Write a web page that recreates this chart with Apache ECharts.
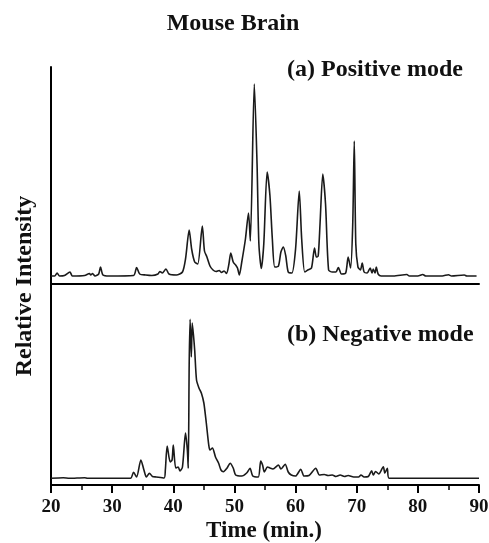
<!DOCTYPE html>
<html>
<head>
<meta charset="utf-8">
<script src="https://cdn.jsdelivr.net/npm/echarts@6/dist/echarts.min.js"></script>
<style>
html,body{margin:0;padding:0;background:#fff;}
#chart{width:489px;height:543px;}
</style>
</head>
<body>
<div id="chart"></div>
<script>
// Positive mode chromatogram (time in min, relative intensity)
var posTime = [20.0,20.6,21.0,21.4,22.2,23.1,23.5,25.5,26.3,26.5,26.8,27.2,27.8,28.1,28.5,29.5,33.5,34.0,34.5,35.5,36.5,37.5,37.8,38.2,38.8,39.3,40.5,41.5,42.0,42.6,43.0,43.5,44.0,44.75,45.1,45.5,46.0,46.5,47.0,47.5,47.9,48.3,48.7,49.1,49.4,49.8,50.2,50.5,50.8,51.2,51.8,52.3,52.6,53.25,53.7,54.0,54.4,54.8,55.35,55.8,56.2,56.6,57.2,57.6,58.0,58.4,58.8,59.4,60.0,60.6,61.0,61.5,62.0,62.6,63.1,63.4,63.7,64.0,64.45,64.9,65.4,66.0,66.6,67.0,67.5,68.2,68.6,69.0,69.35,69.6,69.85,70.2,70.6,70.9,71.2,71.7,72.2,72.5,72.7,73.0,73.2,73.5,74.0,76.0,78.2,78.6,80.0,80.8,81.3,84.0,85.0,85.5,87.6,88.0,89.6];
var posIntensity = [8,8,11,8,8.5,12,8,8.5,10.5,9,10.5,8,10,17,9,8,8.5,16.5,10,9,8.5,10,12.5,11,15,10,9,12,25,54,35,22,20,58,33,27,18,14,12.5,13.5,11.5,13,10.5,20,31,22,19,16,9,22,45,71,43,200,120,40,15.5,40,112,89,45,17,18,32,37,28,12,11,35,93,45,12,14,16,36,27,28,60,110,80,14,12,12,16.5,10,11,27,16,60,143,40,17,14,21,12,11,16,11,15,11,17,10,8,8,9.5,8,8,9.5,8,8,9.3,8,9,8,8];
// Negative mode chromatogram
var negTime = [20.0,22.0,23.0,25.5,26.0,33.0,33.5,34.0,34.7,35.2,35.6,36.1,36.6,37.2,38.5,38.7,39.0,39.5,39.8,40.0,40.4,40.8,41.1,41.5,42.0,42.3,42.45,42.6,42.75,42.95,43.1,43.3,43.5,43.8,44.2,44.6,45.0,45.4,45.8,46.0,46.4,46.9,47.4,47.8,48.2,48.8,49.3,49.8,50.2,51.2,52.0,52.55,53.0,53.9,54.3,54.6,54.9,55.4,55.8,56.3,57.2,57.6,58.3,58.8,59.3,60.0,60.85,61.4,62.2,63.3,63.9,64.7,65.3,66.0,66.6,67.3,68.0,68.6,69.5,70.3,70.7,71.2,71.9,72.45,72.7,73.1,73.6,74.35,74.6,75.0,75.3,90.0];
var negIntensity = [6.7,7.3,6.7,7.3,6.7,6.7,12.7,8,25,15,8,11.7,8.5,8,7,15,39,23,25,40,17,18,14,18,52,35,16.7,120,165.7,128,162,150,135,105,97,91.7,82,62,40,35,37,28,22,15,13.3,17,21.7,17,10,9,12,16.7,9,8,24,20,13,18,17,16,20,16,20.7,13,10,9,15.7,9,9.5,16.7,10,10.5,9.5,10,8.5,10,8.5,9.5,8,8,10,8,8.5,14.3,10,13.5,11,18.3,12,16.7,6.7,6.7];
var xTicks = [20,30,40,50,60,70,80,90];

function pairs(t, v){ var out=[]; for(var i=0;i<t.length;i++){ out.push([t[i], v[i]]); } return out; }

var chart = echarts.init(document.getElementById('chart'), null, {renderer:'canvas'});
var serif = "'Liberation Serif','DejaVu Serif',serif";
var axisLineStyle = {color:'#000', width:2};

chart.setOption({
  animation:false,
  backgroundColor:'#fff',
  grid:[
    {left:51, right:10, top:67, height:217, containLabel:false, outerBoundsMode:'none'},
    {left:51, right:10, top:284, height:201, containLabel:false, outerBoundsMode:'none'}
  ],
  xAxis:[
    {type:'value', gridIndex:0, min:xTicks[0], max:xTicks[xTicks.length-1], interval:10,
     axisLine:{show:true, lineStyle:axisLineStyle}, axisTick:{show:false}, axisLabel:{show:false}, splitLine:{show:false}},
    {type:'value', gridIndex:1, min:xTicks[0], max:xTicks[xTicks.length-1], interval:10,
     axisLine:{show:true, onZero:false, lineStyle:axisLineStyle},
     axisTick:{show:true, length:8, lineStyle:{color:'#000', width:2}},
     minorTick:{show:true, splitNumber:2, length:5, lineStyle:{color:'#000', width:1.5}},
     axisLabel:{show:true, margin:13, fontFamily:serif, fontWeight:'bold', fontSize:19, color:'#111'},
     splitLine:{show:false}}
  ],
  yAxis:[
    {type:'value', gridIndex:0, min:0, max:217,
     axisLine:{show:true, lineStyle:axisLineStyle}, axisTick:{show:false}, axisLabel:{show:false}, splitLine:{show:false}},
    {type:'value', gridIndex:1, min:0, max:201,
     axisLine:{show:true, lineStyle:axisLineStyle}, axisTick:{show:false}, axisLabel:{show:false}, splitLine:{show:false}}
  ],
  series:[
    {type:'line', xAxisIndex:0, yAxisIndex:0, data:pairs(posTime,posIntensity), showSymbol:false, smooth:0.25,
     lineStyle:{color:'#1a1a1a', width:1.6}},
    {type:'line', xAxisIndex:1, yAxisIndex:1, data:pairs(negTime,negIntensity), showSymbol:false, smooth:0.25,
     lineStyle:{color:'#1a1a1a', width:1.6}}
  ],
  graphic:[
    {type:'text', x:233, y:24, style:{text:'Mouse Brain', font:"bold 24px 'Liberation Serif'", fill:'#111', align:'center', verticalAlign:'middle'}},
    {type:'text', x:287, y:70, style:{text:'(a) Positive mode', font:"bold 24px 'Liberation Serif'", fill:'#111', align:'left', verticalAlign:'middle'}},
    {type:'text', x:287, y:335, style:{text:'(b) Negative mode', font:"bold 24px 'Liberation Serif'", fill:'#111', align:'left', verticalAlign:'middle'}},
    {type:'text', x:25, y:286, rotation:Math.PI/2,
     style:{text:'Relative Intensity', font:"bold 24px 'Liberation Serif'", fill:'#111', align:'center', verticalAlign:'middle'}},
    {type:'text', x:264, y:531, style:{text:'Time (min.)', font:"bold 23px 'Liberation Serif'", fill:'#111', align:'center', verticalAlign:'middle'}}
  ]
});
</script>
</body>
</html>
